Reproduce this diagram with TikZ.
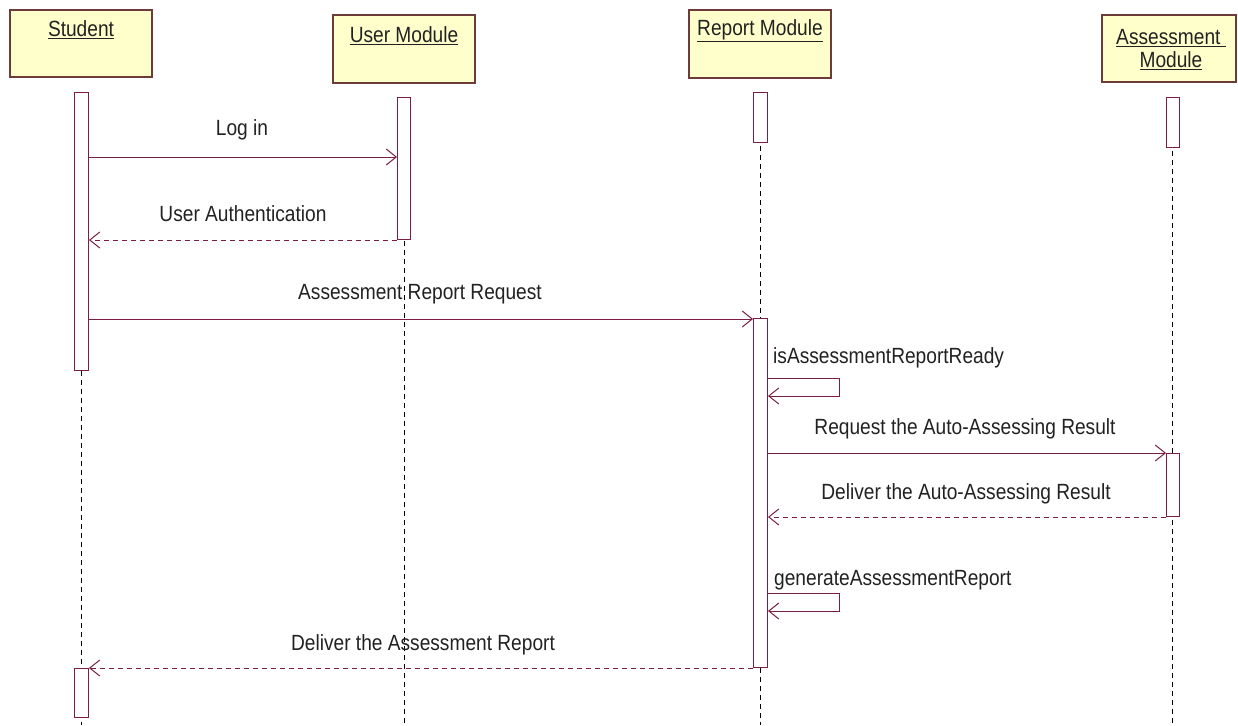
\documentclass[tikz,border=0pt]{standalone}
\usepackage{fontspec}
\setmainfont{Liberation Sans}[FakeStretch=0.87]
\usetikzlibrary{arrows.meta}
\definecolor{boxfill}{HTML}{FFFFCC}
\definecolor{boxline}{HTML}{6E3B3B}
\definecolor{msg}{HTML}{7A1E45}
\definecolor{txt}{HTML}{222222}
\begin{document}
\begin{tikzpicture}[x=1pt,y=-1pt,
  actor/.style={draw=boxline, fill=boxfill, line width=1.2pt, inner sep=0pt, minimum width=142pt},
  lbl/.style={text=txt, font=\fontsize{22}{24}\selectfont, inner sep=0pt},
  act/.style={draw=msg, fill=white, line width=1pt, inner sep=0pt, minimum width=13pt},
  life/.style={draw=black, line width=1pt, dash pattern=on 5pt off 4pt},
  call/.style={draw=msg, line width=1pt, -{Straight Barb[length=10pt,width=16pt]}},
  reply/.style={call, dash pattern=on 5pt off 4pt},
  selfcall/.style={draw=msg, line width=1pt, -{Straight Barb[length=10pt,width=16pt]}}]
\fill[white] (0,0) rectangle (1238,725);
\useasboundingbox (0,0) rectangle (1238,725);

% actor boxes
\node[actor, minimum height=67pt] (stu) at (81,43.5) {};
\node[lbl] (stuL) at (81,30) {\underline{Student}};
\node[actor, minimum height=68pt] (um) at (404,49) {};
\node[lbl] (umL) at (404,36) {\underline{User Module}};
\node[actor, minimum height=68pt] (rm) at (760,44) {};
\node[lbl] (rmL) at (760,31) {\underline{Report Module}};
\node[actor, minimum width=134pt, minimum height=67pt] (am) at (1169,48.5) {};
\node[lbl, align=center] (amL) at (1171,50) {\underline{Assessment\ }\\[-1pt]\underline{Module}};

% lifelines
\coordinate (stuT) at (81,92);  \coordinate (stuB) at (81,725);
\coordinate (umT) at (404,97);  \coordinate (umB) at (404,725);
\coordinate (rmT) at (760,92);  \coordinate (rmB) at (760,725);
\coordinate (amT) at (1172,97); \coordinate (amB) at (1172,725);
\draw[life] (stuT) -- (stuB);
\draw[life] (umT) -- (umB);
\draw[life] (rmT) -- (rmB);
\draw[life] (amT) -- (amB);

% activations
\node[act, minimum width=14pt, minimum height=278pt] (stuA1) at (81,231) {};
\node[act, minimum width=14pt, minimum height=49pt] (stuA2) at (81,692.5) {};
\node[act, minimum height=142pt] (umA1) at (403.5,168) {};
\node[act, minimum width=14pt, minimum height=50pt] (rmA1) at (760,117) {};
\node[act, minimum width=14pt, minimum height=349pt] (rmA2) at (760,492.5) {};
\node[act, minimum height=50pt] (amA1) at (1172.5,122) {};
\node[act, minimum height=63pt] (amA2) at (1172.5,484.5) {};

% message end points
\coordinate (m1a) at (88,157);   \coordinate (m1b) at (397,157);
\coordinate (m2a) at (397,240);  \coordinate (m2b) at (89,240);
\coordinate (m3a) at (88,319);   \coordinate (m3b) at (753,319);
\coordinate (s1a) at (767,378);  \coordinate (s1b) at (839,378);
\coordinate (s1c) at (839,396);  \coordinate (s1d) at (768,396);
\coordinate (m4a) at (767,453);  \coordinate (m4b) at (1166,453);
\coordinate (m5a) at (1166,517); \coordinate (m5b) at (768,517);
\coordinate (s2a) at (767,593);  \coordinate (s2b) at (839,593);
\coordinate (s2c) at (839,611);  \coordinate (s2d) at (768,611);
\coordinate (m6a) at (753,668);  \coordinate (m6b) at (89,668);

% messages
\draw[call] (m1a) -- (m1b);
\node[lbl] (m1L) at (242,130) {Log in};
\draw[reply] (m2a) -- (m2b);
\node[lbl] (m2L) at (243,214) {User Authentication};
\draw[call] (m3a) -- (m3b);
\node[lbl] (m3L) at (420,294) {Assessment Report Request};
\draw[selfcall] (s1a) -- (s1b) -- (s1c) -- (s1d);
\node[lbl, anchor=west] (s1L) at (773,358) {isAssessmentReportReady};
\draw[call] (m4a) -- (m4b);
\node[lbl] (m4L) at (965,429) {Request the Auto-Assessing Result};
\draw[reply] (m5a) -- (m5b);
\node[lbl] (m5L) at (966,494) {Deliver the Auto-Assessing Result};
\draw[selfcall] (s2a) -- (s2b) -- (s2c) -- (s2d);
\node[lbl, anchor=west] (s2L) at (774,580) {generateAssessmentReport};
\draw[reply] (m6a) -- (m6b);
\node[lbl] (m6L) at (423,645) {Deliver the Assessment Report};
\end{tikzpicture}
\end{document}
